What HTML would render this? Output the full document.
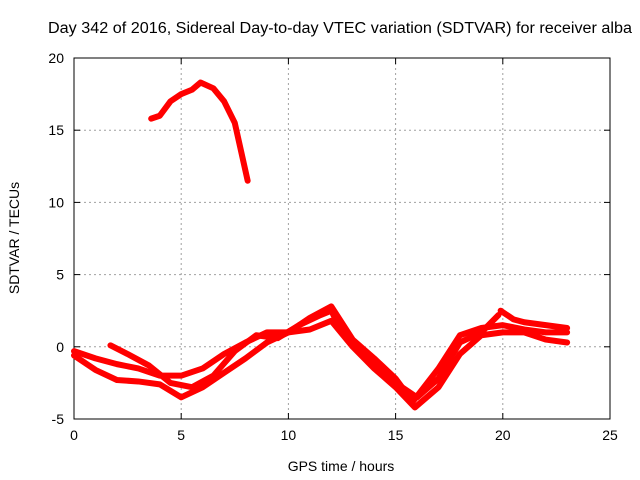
<!DOCTYPE html>
<html><head><meta charset="utf-8"><style>
body{margin:0;background:#fff}
svg{display:block;font-family:"Liberation Sans",sans-serif}
</style></head><body>
<svg id="chart" width="640" height="480">
<text x="48" y="33" font-size="15.5" textLength="584" lengthAdjust="spacingAndGlyphs">Day 342 of 2016, Sidereal Day-to-day VTEC variation (SDTVAR) for receiver alba</text>
<g id="grid"></g>
<g id="axes"></g>
<g id="series"></g>
<text x="341" y="471" font-size="14" text-anchor="middle">GPS time / hours</text>
<text transform="translate(19,238) rotate(-90)" font-size="14" text-anchor="middle">SDTVAR / TECUs</text>
</svg>
<script>
const xTicks=[0,5,10,15,20,25];
const yTicks=[-5,0,5,10,15,20];
const seriesA=[[0,-0.3],[1,-0.8],[2,-1.2],[3,-1.5],[4,-2.0],[5,-2.0],[6,-1.5],[7,-0.5],[8,0.3],[9,1.0],[10,1.0],[11,2.0],[12,2.8],[13,0.5],[14,-0.8],[15,-2.2],[15.8,-3.8],[17,-1.5],[18,0.8],[19,1.3],[20,1.5],[21,1.2],[22,1.0],[23,1.0]];
const seriesB=[[0,-0.6],[1,-1.6],[2,-2.3],[3,-2.4],[4,-2.6],[5,-3.5],[6,-2.8],[7,-1.8],[8,-0.8],[9,0.3],[10,1.0],[11,1.2],[12,1.8],[13,0],[14,-1.5],[15,-2.8],[15.9,-4.2],[17,-2.8],[18,-0.5],[19,0.8],[20,1.0],[21,1.0],[22,0.5],[23,0.3]];
const seriesC=[[1.7,0.1],[2.5,-0.5],[3.5,-1.3],[4.5,-2.5],[5.5,-2.8],[6.5,-2.0],[7.5,-0.3],[8.5,0.8],[9.5,0.6],[10.5,1.5],[11.5,2.2],[12,2.5],[12.5,1.0],[14,-1.2],[15,-2.5],[16,-3.5],[17,-2.2],[18,0.3],[19,1.0],[19.8,2.2]];
const seriesD=[[19.9,2.5],[20.5,1.9],[21,1.7],[22,1.5],[23,1.3]];
const seriesHigh=[[3.6,15.8],[4,16],[4.5,17],[5,17.5],[5.5,17.8],[5.9,18.3],[6.5,17.9],[7,17],[7.5,15.5],[7.8,13.5],[8.1,11.5]];
const L=74,R=610,T=58,B=419;
const xs=v=>L+(v-0)/25*(R-L);
const ys=v=>B-(v+5)/25*(B-T);
const NS='http://www.w3.org/2000/svg';
function mk(t,a,p){const e=document.createElementNS(NS,t);for(const k in a)e.setAttribute(k,a[k]);p.appendChild(e);return e;}
const grid=document.getElementById('grid'),axes=document.getElementById('axes'),ser=document.getElementById('series');
xTicks.forEach(t=>{
 if(t>0&&t<25){const g=mk('line',{x1:xs(t),x2:xs(t),y1:T,y2:B,stroke:'#a0a0a0','stroke-dasharray':'2,3'},grid);
 
 }
 const tl=mk('text',{x:xs(t),y:B+21,'font-size':14,'text-anchor':'middle'},axes);tl.textContent=t;
 
 
 mk('line',{x1:xs(t),x2:xs(t),y1:B,y2:B-6,stroke:'#000'},axes);
 mk('line',{x1:xs(t),x2:xs(t),y1:T,y2:T+6,stroke:'#000'},axes);
});
yTicks.forEach(t=>{
 if(t>-5&&t<20){const g=mk('line',{x1:L,x2:R,y1:ys(t),y2:ys(t),stroke:'#a0a0a0','stroke-dasharray':'2,3'},grid);
 
 }
 const tl=mk('text',{x:L-10,y:ys(t)+5,'font-size':14,'text-anchor':'end'},axes);tl.textContent=t;
 
 
 mk('line',{x1:L,x2:L+6,y1:ys(t),y2:ys(t),stroke:'#000'},axes);
 mk('line',{x1:R,x2:R-6,y1:ys(t),y2:ys(t),stroke:'#000'},axes);
});
const fr=mk('rect',{x:L,y:T,width:R-L,height:B-T,fill:'none',stroke:'#000'},axes);


[['series-a',seriesA],['series-b',seriesB],['series-c',seriesC],['series-d',seriesD],['series-high',seriesHigh]].forEach(([n,d])=>{
 const p=mk('polyline',{points:d.map(q=>xs(q[0])+','+ys(q[1])).join(' '),fill:'none',stroke:'#f00','stroke-width':6,'stroke-linejoin':'round','stroke-linecap':'round'},ser);
 
 
});
</script>
</body></html>
